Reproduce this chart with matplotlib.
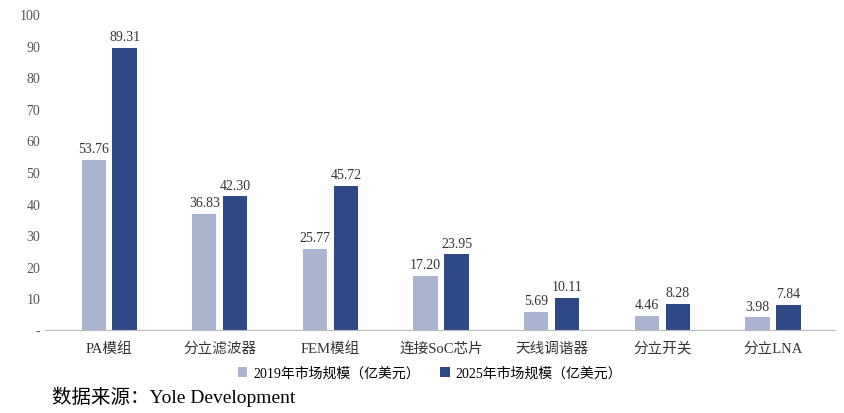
import matplotlib.pyplot as plt
import numpy as np

plt.rcParams['font.family'] = ['Liberation Serif', 'Noto Sans CJK SC']

categories = ["PA模组", "分立滤波器", "FEM模组", "连接SoC芯片", "天线调谐器", "分立开关", "分立LNA"]
values_2019 = [53.76, 36.83, 25.77, 17.20, 5.69, 4.46, 3.98]
values_2025 = [89.31, 42.30, 45.72, 23.95, 10.11, 8.28, 7.84]
yticks = [0, 10, 20, 30, 40, 50, 60, 70, 80, 90, 100]
ytick_labels = ["-"] + [str(v) for v in yticks[1:]]

light = "#aab4cf"
dark = "#2e4a86"

fig = plt.figure(figsize=(8.45, 4.14), dpi=100)
ax = fig.add_axes([45 / 845, 1 - 331 / 414, 790 / 845, 316 / 414])

x = np.arange(len(categories))
w = 0.22
off = 0.14
b1 = ax.bar(x - off, values_2019, w, color=light, label="2019年市场规模（亿美元）")
b2 = ax.bar(x + off, values_2025, w, color=dark, label="2025年市场规模（亿美元）")
for bars in (b1, b2):
    for r in bars:
        ax.text(r.get_x() + r.get_width() / 2, r.get_height() + 1.5, f"{r.get_height():.2f}",
                ha="center", va="bottom", fontsize=10, color="#333333")

ax.set_xlim(-0.58, 6.56)
ax.set_ylim(0, 100)
ax.set_yticks(yticks)
ax.set_yticklabels(ytick_labels, fontsize=10, color="#555555")
ax.set_xticks(x)
ax.set_xticklabels(categories, fontsize=10.5, color="#333333")
for s in ["top", "right", "left"]:
    ax.spines[s].set_visible(False)
ax.spines["bottom"].set_color("#bbbbbb")
ax.tick_params(axis="both", length=0)
ax.tick_params(axis="x", pad=8)

fig.legend(handles=[b1, b2], loc="center", bbox_to_anchor=(430 / 845, 1 - 374 / 414),
           ncol=2, frameon=False, fontsize=10, handlelength=0.7, handleheight=0.7,
           columnspacing=1.5, handletextpad=0.4)
fig.text(52 / 845, 1 - 397 / 414, "数据来源：Yole Development", fontsize=14, va="center")

fig.savefig("out.png", dpi=100)
